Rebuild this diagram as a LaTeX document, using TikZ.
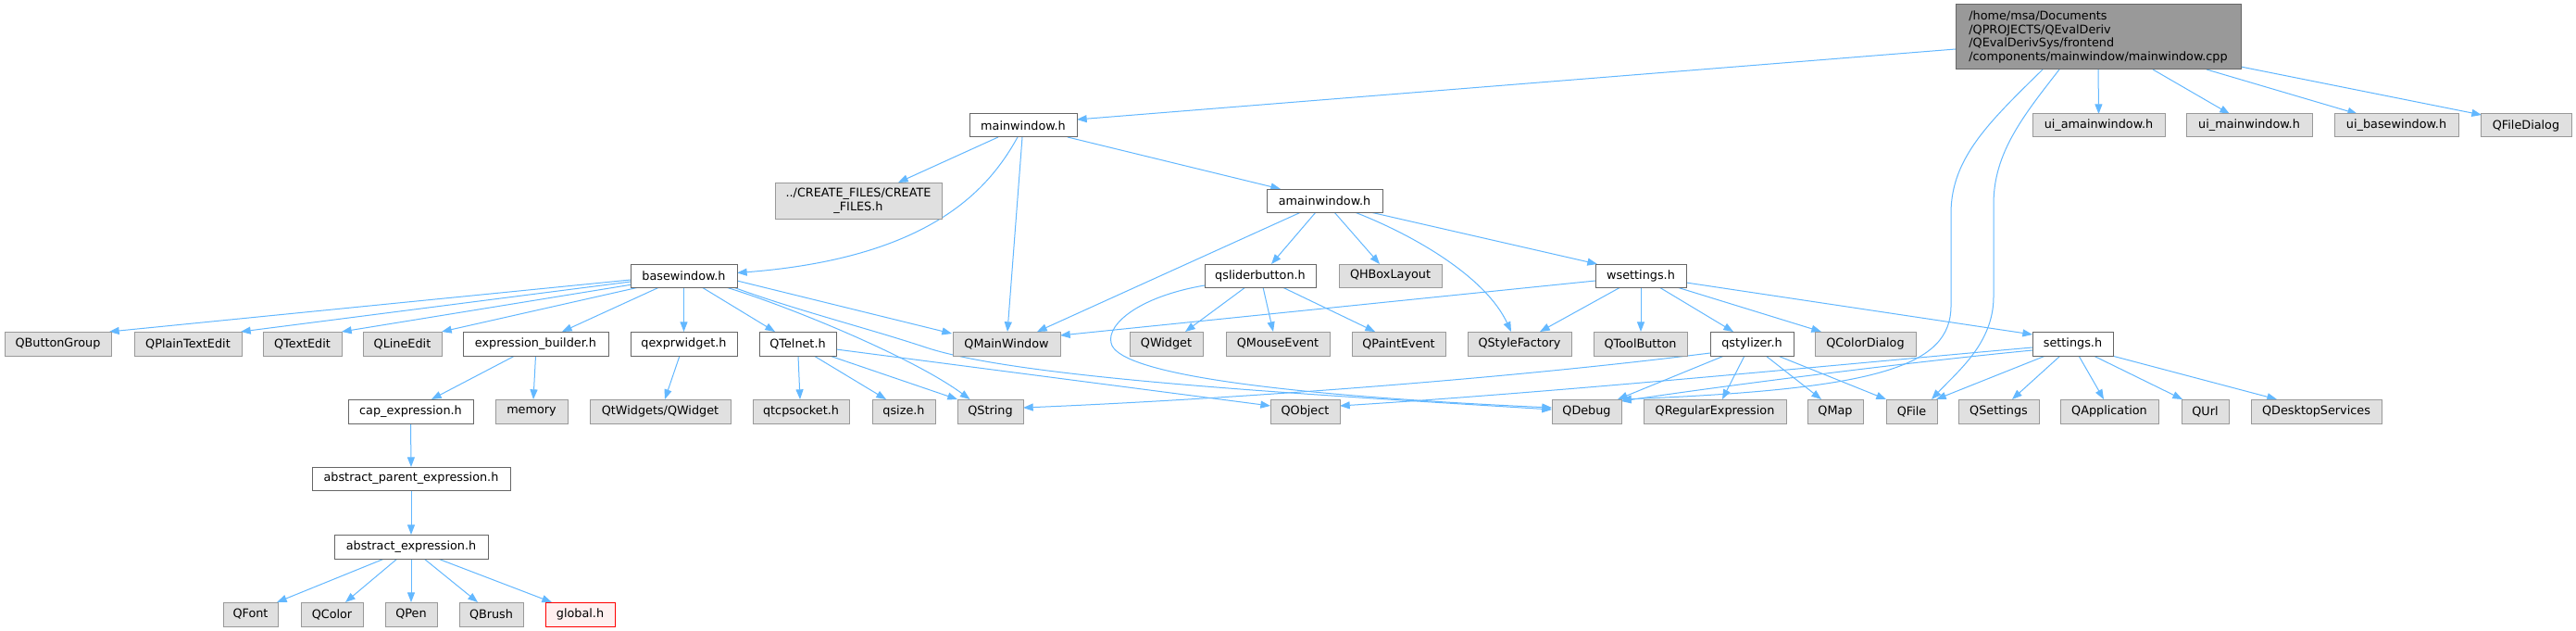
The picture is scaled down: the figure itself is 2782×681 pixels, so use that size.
\documentclass[tikz,border=0pt]{standalone}
\usepackage{fontspec}
\setmainfont{DejaVu Sans}
\usetikzlibrary{arrows.meta,calc}
\pgfdeclarelayer{bglayer}
\pgfdeclarelayer{edgelayer}
\pgfsetlayers{bglayer,edgelayer,main}
\definecolor{edgec}{HTML}{63B8FF}
\definecolor{gfill}{HTML}{E0E0E0}
\definecolor{gdraw}{HTML}{999999}
\definecolor{wdraw}{HTML}{666666}
\definecolor{mfill}{HTML}{999999}
\definecolor{rfill}{HTML}{FFF0F0}
\definecolor{rdraw}{HTML}{FF0000}
\tikzset{
  basebox/.style={inner sep=0pt, outer sep=0pt, line width=0.75pt, font=\fontsize{9.6}{11}\selectfont, text=black},
  extbox/.style={basebox, draw=gdraw, fill=gfill},
  locbox/.style={basebox, draw=wdraw, fill=white},
  rootbox/.style={basebox, draw=wdraw, fill=mfill, align=left},
  truncbox/.style={basebox, draw=rdraw, fill=rfill},
  edge/.style={draw=edgec, line width=0.75pt, -{Triangle[length=8pt,width=6pt]}},
}
\newcommand{\dxbox}[7]{\node[#1, minimum width={(#4-#3)*0.75pt}, minimum height={(#6-#5)*0.75pt}] (#2) at ({(#3+#4)/2},{(#5+#6)/2}) {#7};}
\begin{document}
\begin{tikzpicture}[x=0.75pt,y=-0.75pt]
\begin{pgfonlayer}{bglayer}
\fill[white] (0,0) rectangle (2782,681);
\end{pgfonlayer}
\useasboundingbox (0,0) rectangle (2782,681);
% row 0
\dxbox{rootbox}{main}{2112}{2420}{5}{75}{/home/msa/Documents\\/QPROJECTS/QEvalDeriv\\/QEvalDerivSys/frontend\\/components/mainwindow/mainwindow.cpp}
% row 1
\dxbox{locbox}{mw}{1047}{1163}{123}{148}{mainwindow.h}
\dxbox{extbox}{uiam}{2195}{2338}{123}{148}{ui\_amainwindow.h}
\dxbox{extbox}{uim}{2361}{2497}{123}{148}{ui\_mainwindow.h}
\dxbox{extbox}{uib}{2521}{2655}{123}{148}{ui\_basewindow.h}
\dxbox{extbox}{qfd}{2679}{2777}{123}{148}{QFileDialog}
% row 2
\dxbox{extbox,align=center}{cf}{837}{1017}{197}{236}{../CREATE\_FILES/CREATE\\\_FILES.h}
\dxbox{locbox}{am}{1368}{1493}{204}{229}{amainwindow.h}
% row 3
\dxbox{locbox}{bw}{681}{796}{285}{310}{basewindow.h}
\dxbox{locbox}{qsb}{1301}{1421}{285}{310}{qsliderbutton.h}
\dxbox{extbox}{qhb}{1446}{1557}{285}{310}{QHBoxLayout}
\dxbox{locbox}{ws}{1723}{1821}{285}{310}{wsettings.h}
% row 4
\dxbox{extbox}{qbg}{5}{120}{358}{384}{QButtonGroup}
\dxbox{extbox}{qpte}{145}{261}{358}{384}{QPlainTextEdit}
\dxbox{extbox}{qte}{284}{369}{358}{384}{QTextEdit}
\dxbox{extbox}{qle}{392}{477}{358}{384}{QLineEdit}
\dxbox{locbox}{eb}{500}{657}{358}{384}{expression\_builder.h}
\dxbox{locbox}{qew}{681}{796}{358}{384}{qexprwidget.h}
\dxbox{locbox}{qtn}{820}{903}{358}{384}{QTelnet.h}
\dxbox{extbox}{qmw}{1029}{1145}{358}{384}{QMainWindow}
\dxbox{extbox}{qw}{1220}{1299}{358}{384}{QWidget}
\dxbox{extbox}{qme}{1324}{1436}{358}{384}{QMouseEvent}
\dxbox{extbox}{qpe}{1460}{1561}{358}{384}{QPaintEvent}
\dxbox{extbox}{qsf}{1585}{1697}{358}{384}{QStyleFactory}
\dxbox{extbox}{qtb}{1721}{1822}{358}{384}{QToolButton}
\dxbox{locbox}{qst}{1847}{1937}{358}{384}{qstylizer.h}
\dxbox{extbox}{qcd}{1960}{2069}{358}{384}{QColorDialog}
\dxbox{locbox}{st}{2195}{2282}{358}{384}{settings.h}
% row 5
\dxbox{locbox}{cap}{376}{511}{431}{457}{cap\_expression.h}
\dxbox{extbox}{mem}{535}{613}{431}{457}{memory}
\dxbox{extbox}{qtw}{637}{789}{431}{457}{QtWidgets/QWidget}
\dxbox{extbox}{qtcp}{813}{917}{431}{457}{qtcpsocket.h}
\dxbox{extbox}{qsz}{942}{1010}{431}{457}{qsize.h}
\dxbox{extbox}{qs}{1034}{1105}{431}{457}{QString}
\dxbox{extbox}{qo}{1372}{1447}{431}{457}{QObject}
\dxbox{extbox}{qd}{1676}{1751}{431}{457}{QDebug}
\dxbox{extbox}{qre}{1775}{1929}{431}{457}{QRegularExpression}
\dxbox{extbox}{qmap}{1952}{2012}{431}{457}{QMap}
\dxbox{extbox}{qf}{2037}{2092}{431}{457}{QFile}
\dxbox{extbox}{qset}{2115}{2202}{431}{457}{QSettings}
\dxbox{extbox}{qapp}{2225}{2331}{431}{457}{QApplication}
\dxbox{extbox}{qurl}{2356}{2407}{431}{457}{QUrl}
\dxbox{extbox}{qds}{2431}{2572}{431}{457}{QDesktopServices}
% rows 6-8
\dxbox{locbox}{ape}{337}{551}{504}{529}{abstract\_parent\_expression.h}
\dxbox{locbox}{ae}{361}{527}{577}{603}{abstract\_expression.h}
\dxbox{extbox}{qfont}{241}{300}{650}{676}{QFont}
\dxbox{extbox}{qcol}{325}{392}{650}{676}{QColor}
\dxbox{extbox}{qpen}{416}{472}{650}{676}{QPen}
\dxbox{extbox}{qbr}{496}{565}{650}{676}{QBrush}
\dxbox{truncbox}{gl}{589}{664}{650}{676}{global.h}

\begin{pgfonlayer}{edgelayer}
% main
\draw[edge] ($(main.west)+(0,13)$) -- ($(mw.east)+(0,-6.5)$);
\draw[edge] (main.south) -- (uiam.north);
\draw[edge] ($(main.south)+(59,0)$) -- ($(uim.north)+(-21,0)$);
\draw[edge] ($(main.south)+(117,0)$) -- ($(uib.north)+(-42,0)$);
\draw[edge] ($(main.south east)+(0,-3)$) -- ($(qfd.north west)+(1,1)$);
\draw[edge] ($(main.south)+(-60,0)$) .. controls (2150,130) and (2107,170) .. (2107,230) -- (2107,330) .. controls (2107,395) and (2030,420) .. (qd.north east);
\draw[edge] ($(main.south)+(-42,0)$) .. controls (2185,125) and (2153,165) .. (2153,220) -- (2153,320) .. controls (2153,370) and (2115,400) .. ($(qf.north east)+(-6,0)$);
% mainwindow.h
\draw[edge] ($(mw.south)+(-27,0)$) -- ($(cf.north)+(43,0)$);
\draw[edge] ($(mw.south)+(-6,0)$) .. controls (1070,200) and (1010,278) .. ($(bw.east)+(0,-3)$);
\draw[edge] ($(mw.south)+(-1,0)$) -- ($(qmw.north)+(1,0)$);
\draw[edge] ($(mw.south)+(48,0)$) -- ($(am.north)+(-47.5,0)$);
% amainwindow.h
\draw[edge] ($(am.south)+(-25.5,0)$) -- ($(qmw.north)+(33,0)$);
\draw[edge] ($(am.south)+(-9.5,0)$) -- ($(qsb.north)+(12,0)$);
\draw[edge] ($(am.south)+(10.5,0)$) -- ($(qhb.north)+(-11.5,0)$);
\draw[edge] ($(am.south)+(32.5,0)$) .. controls (1530,255) and (1605,300) .. ($(qsf.north)+(-9,0)$);
\draw[edge] ($(am.south east)+(-13,0)$) -- ($(ws.north west)+(2,0)$);
% basewindow.h
\draw[edge] ($(bw.west)+(0,4.5)$) -- ($(qbg.north east)+(-2,0)$);
\draw[edge] ($(bw.west)+(0,6.5)$) -- ($(qpte.north east)+(-1,0)$);
\draw[edge] ($(bw.south west)+(2,-3)$) -- (qte.north east);
\draw[edge] ($(bw.south west)+(9,0)$) -- (qle.north east);
\draw[edge] ($(bw.south)+(-26.5,0)$) -- ($(eb.north)+(28.5,0)$);
\draw[edge] (bw.south) -- (qew.north);
\draw[edge] ($(bw.south)+(19.5,0)$) -- ($(qtn.north)+(-24.5,0)$);
\draw[edge] ($(bw.east)+(0,5.5)$) -- ($(qmw.north west)+(-1,2)$);
\draw[edge] ($(bw.south east)+(-12,0)$) .. controls (850,330) and (985,385) .. ($(qs.north)+(-22,0)$);
\draw[edge] ($(bw.south east)+(-4,0)$) .. controls (860,335) and (940,355) .. (1000,375) .. controls (1100,408) and (1400,425) .. ($(qd.west)+(0,-2)$);
% QTelnet.h
\draw[edge] ($(qtn.south)+(0.5,0)$) -- ($(qtcp.north)+(-1,0)$);
\draw[edge] ($(qtn.south)+(17.5,0)$) -- ($(qsz.north)+(-19,0)$);
\draw[edge] ($(qtn.south)+(34.5,0)$) -- (qs.north west);
\draw[edge] ($(qtn.east)+(0,6)$) -- ($(qo.west)+(0,-6)$);
% qexprwidget.h, expression chain
\draw[edge] ($(qew.south)+(-4.5,0)$) -- ($(qtw.north)+(5,0)$);
\draw[edge] ($(eb.south)+(-22.5,0)$) -- ($(cap.north)+(22.5,0)$);
\draw[edge] (eb.south) -- ($(mem.north)+(2,0)$);
\draw[edge] (cap.south) -- (ape.north);
\draw[edge] (ape.south) -- (ae.north);
\draw[edge] ($(ae.south)+(-29,0)$) -- ($(qfont.north)+(28.5,0)$);
\draw[edge] ($(ae.south)+(-15,0)$) -- ($(qcol.north)+(14.5,0)$);
\draw[edge] (ae.south) -- (qpen.north);
\draw[edge] ($(ae.south)+(14,0)$) -- ($(qbr.north)+(-14.5,0)$);
\draw[edge] ($(ae.south)+(29,0)$) -- ($(gl.north)+(-30.5,0)$);
% qsliderbutton.h
\draw[edge] ($(qsb.south)+(-16,0)$) -- ($(qw.north)+(20.5,0)$);
\draw[edge] ($(qsb.south)+(3,0)$) -- ($(qme.north)+(-5,0)$);
\draw[edge] ($(qsb.south)+(24,0)$) -- ($(qpe.north)+(-25.5,0)$);
\draw[edge] ($(qsb.south west)+(0,-2)$) .. controls (1230,320) and (1195,350) .. (1200,370) .. controls (1205,400) and (1350,425) .. ($(qd.west)+(0,-4)$);
% wsettings.h
\draw[edge] ($(ws.west)+(0,5.5)$) -- ($(qmw.north east)+(0,4)$);
\draw[edge] ($(ws.south)+(-22,0)$) -- ($(qsf.north)+(22,0)$);
\draw[edge] (ws.south) -- ($(qtb.north)+(0.5,0)$);
\draw[edge] ($(ws.south)+(20,0)$) -- ($(qst.north)+(-20,0)$);
\draw[edge] ($(ws.south)+(39,0)$) -- ($(qcd.north)+(-47.5,0)$);
\draw[edge] ($(ws.east)+(0,7.5)$) -- ($(st.west)+(0,-10)$);
% qstylizer.h
\draw[edge] ($(qst.south west)+(0,-3)$) .. controls (1600,412) and (1300,432) .. ($(qs.east)+(0,-4)$);
\draw[edge] ($(qst.south)+(-30,0)$) -- ($(qd.north east)+(-4,0)$);
\draw[edge] ($(qst.south)+(-8,0)$) -- ($(qre.north)+(8,0)$);
\draw[edge] ($(qst.south)+(15,0)$) -- ($(qmap.north)+(-15,0)$);
\draw[edge] ($(qst.south)+(28,0)$) -- (qf.north west);
% settings.h
\draw[edge] ($(st.west)+(0,4)$) .. controls (2000,392) and (1700,422) .. ($(qo.east)+(0,-6)$);
\draw[edge] ($(st.west)+(0,7)$) .. controls (2050,392) and (1850,418) .. ($(qd.east)+(0,-11)$);
\draw[edge] ($(st.south)+(-29.5,0)$) -- ($(qf.north east)+(-1,0)$);
\draw[edge] ($(st.south)+(-13.5,0)$) -- ($(qset.north)+(14.5,0)$);
\draw[edge] ($(st.south)+(6.5,0)$) -- ($(qapp.north)+(-6,0)$);
\draw[edge] ($(st.south)+(22.5,0)$) -- ($(qurl.north)+(-24.5,0)$);
\draw[edge] ($(st.south east)+(-1,0)$) -- ($(qds.north)+(-42.5,0)$);
\end{pgfonlayer}
\end{tikzpicture}
\end{document}
